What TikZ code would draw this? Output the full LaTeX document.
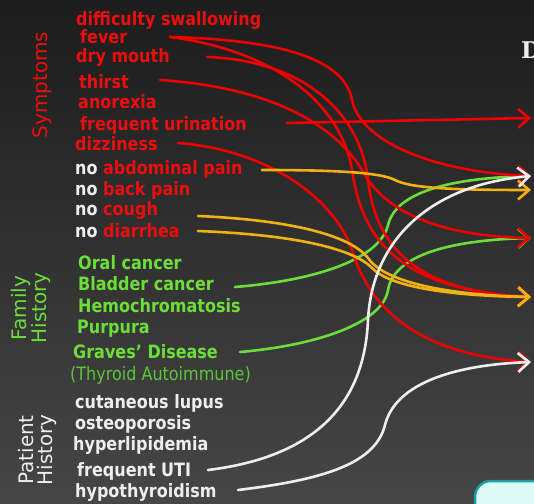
\documentclass[tikz,border=0pt]{standalone}
\usepackage{fontspec}
\setmainfont{DejaVu Sans}
\newfontfamily\lblfont[FakeStretch=0.87]{DejaVu Sans}
\newfontfamily\serifD{DejaVu Serif}
\usetikzlibrary{arrows.meta}
\definecolor{cred}{RGB}{236,14,14}
\definecolor{lred}{RGB}{238,0,0}
\definecolor{cgreen}{RGB}{108,222,58}
\definecolor{tgreen}{RGB}{92,198,58}
\definecolor{corange}{RGB}{242,178,20}
\definecolor{cwhite}{RGB}{238,238,238}
\definecolor{bgtop}{RGB}{28,28,28}
\definecolor{bgbot}{RGB}{70,70,70}
\definecolor{cyanfill}{RGB}{222,248,248}
\definecolor{tealborder}{RGB}{24,160,160}
\begin{document}
\begin{tikzpicture}[x=1pt,y=-1pt,
  item/.style={anchor=base west,inner sep=0pt,font=\lblfont\bfseries\fontsize{18.4}{20}\selectfont},
  sidelbl/.style={rotate=90,inner sep=0pt,align=center,font=\fontsize{20}{19}\selectfont},
  conn/.style={line width=2.6pt,line cap=round},
  tip/.style={-{Straight Barb[length=11pt,width=19pt]}}]
\useasboundingbox (0,0) rectangle (534,503);
\clip (0,0) rectangle (534,503);
\shade[top color=bgtop,bottom color=bgbot] (0,0) rectangle (534,503);
% cyan shape bottom right
\draw[line width=2.5pt,draw=tealborder,fill=cyanfill,rounded corners=16pt] (475,481) rectangle (580,560);
% D
\node[anchor=base west,inner sep=0pt,text=cwhite,font=\serifD\bfseries\fontsize{23}{25}\selectfont] (dletter) at (521,59) {D};
% side labels
\node[sidelbl,text=cred] (symptoms) at (42,85) {Symptoms};
\node[sidelbl,text=cgreen] (family) at (31,308) {Family\\History};
\node[sidelbl,text=cwhite] (patient) at (37,450) {Patient\\History};
% symptoms
\node[item,text=cred] (difficulty) at (76,26) {difficulty swallowing};
\node[item,text=cred] (fever) at (80,44) {fever};
\node[item,text=cred] (drymouth) at (76,62) {dry mouth};
\node[item,text=cred] (thirst) at (79,88) {thirst};
\node[item,text=cred] (anorexia) at (78,108) {anorexia};
\node[item,text=cred] (urination) at (80,130) {frequent urination};
\node[item,text=cred] (dizziness) at (75,150) {dizziness};
\node[item,text=cwhite] (abdominal) at (75,174) {no \textcolor{cred}{abdominal pain}};
\node[item,text=cwhite] (back) at (75,195) {no \textcolor{cred}{back pain}};
\node[item,text=cwhite] (cough) at (75,215) {no \textcolor{cred}{cough}};
\node[item,text=cwhite] (diarrhea) at (75,237) {no \textcolor{cred}{diarrhea}};
% family history
\node[item,text=cgreen] (oral) at (78,269) {Oral cancer};
\node[item,text=cgreen] (bladder) at (78,290) {Bladder cancer};
\node[item,text=cgreen] (hemo) at (78,312) {Hemochromatosis};
\node[item,text=cgreen] (purpura) at (77,333) {Purpura};
\node[item,text=cgreen] (graves) at (73,358) {Graves’ Disease};
\node[item,text=tgreen,font=\lblfont\fontsize{18.4}{20}\selectfont] (thyroid) at (70,380) {(Thyroid Autoimmune)};
% patient history
\node[item,text=cwhite] (lupus) at (75,408) {cutaneous lupus};
\node[item,text=cwhite] (osteo) at (75,429) {osteoporosis};
\node[item,text=cwhite] (hyperlip) at (73,450) {hyperlipidemia};
\node[item,text=cwhite] (uti) at (77,476) {frequent UTI};
\node[item,text=cwhite] (hypothy) at (75,497) {hypothyroidism};
% line start points
\coordinate (s-fever) at (170,37);
\coordinate (s-dry) at (207,57);
\coordinate (s-thirst) at (160,80);
\coordinate (s-urin) at (287,123);
\coordinate (s-dizz) at (178,143);
\coordinate (s-abd) at (262,170);
\coordinate (s-cough) at (198,216);
\coordinate (s-diar) at (198,231);
\coordinate (s-blad) at (235,287);
\coordinate (s-grav) at (240,352);
\coordinate (s-uti) at (208,470);
\coordinate (s-hypo) at (238,490);
% targets
\coordinate (t1) at (531,118);
\coordinate (t2) at (531,176);
\coordinate (t3) at (531,190);
\coordinate (t4) at (531,238);
\coordinate (t5) at (531,297);
\coordinate (t6) at (531,362);
% green
\draw[conn,tip,cgreen] (s-blad) .. controls (320,280) and (380,258) .. (388,225) .. controls (396,192) and (450,178) .. (t2);
\draw[conn,tip,cgreen] (s-grav) .. controls (320,345) and (383,322) .. (388,290) .. controls (394,255) and (450,240) .. (t4);
% red
\draw[conn,tip,lred] (s-fever) .. controls (290,40) and (345,62) .. (352,100) .. controls (360,140) and (430,172) .. (t2);
\draw[conn,tip,lred] (s-fever) .. controls (270,50) and (340,100) .. (352,170) .. controls (362,240) and (400,290) .. (t5);
\draw[conn,tip,lred] (s-dry) .. controls (300,60) and (360,110) .. (368,180) .. controls (376,250) and (420,292) .. (t5);
\draw[conn,tip,lred] (s-thirst) .. controls (280,88) and (340,130) .. (365,175) .. controls (395,225) and (470,237) .. (t4);
\draw[conn,tip,lred] (s-dizz) .. controls (270,150) and (335,200) .. (352,250) .. controls (370,310) and (420,355) .. (t6);
\draw[conn,tip,lred] (s-urin) -- (t1);
% orange
\draw[conn,tip,corange] (s-abd) .. controls (330,170) and (380,172) .. (395,180) .. controls (410,188) and (450,190) .. (t3);
\draw[conn,tip,corange] (s-cough) .. controls (290,220) and (350,235) .. (368,258) .. controls (385,283) and (450,295) .. (t5);
\draw[conn,tip,corange] (s-diar) .. controls (300,235) and (355,250) .. (372,268) .. controls (390,287) and (450,296) .. (t5);
% white
\draw[conn,tip,cwhite] (s-uti) .. controls (330,455) and (365,390) .. (368,320) .. controls (372,240) and (430,185) .. (t2);
\draw[conn,tip,cwhite] (s-hypo) .. controls (320,480) and (375,465) .. (385,425) .. controls (395,385) and (450,365) .. (t6);
\end{tikzpicture}
\end{document}
